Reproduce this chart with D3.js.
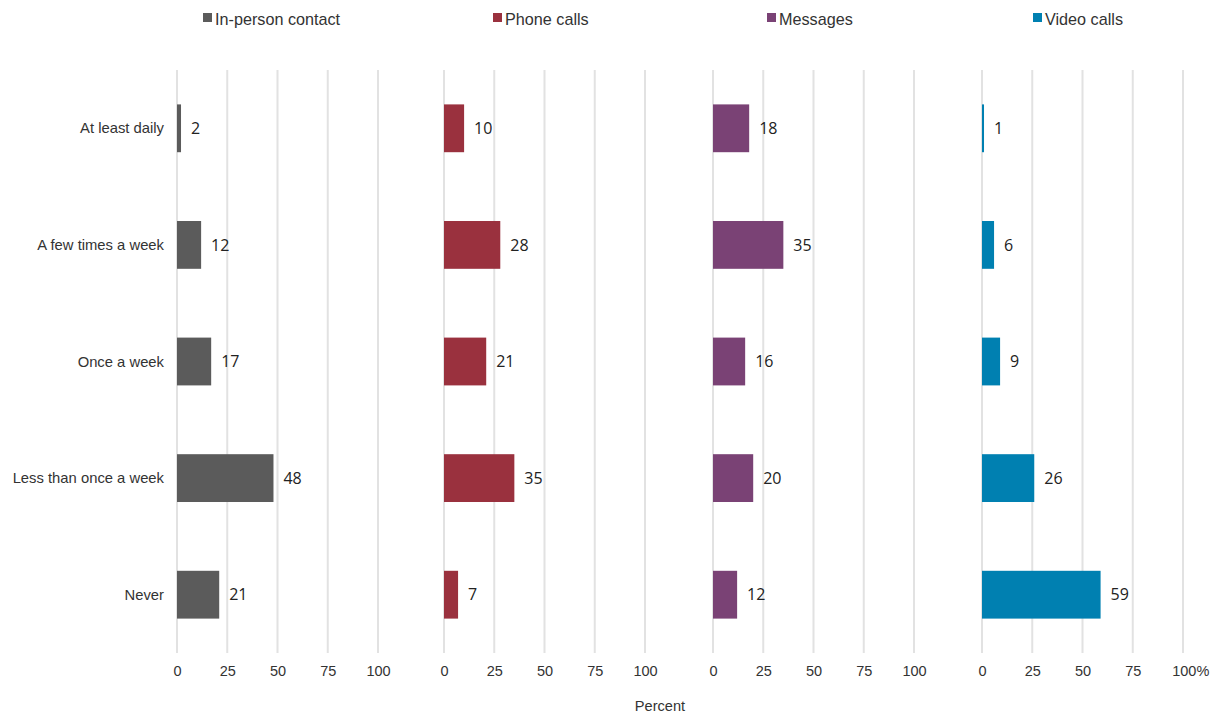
<!DOCTYPE html>
<html>
<head>
<meta charset="utf-8">
<script src="https://cdn.jsdelivr.net/npm/d3@7"></script>
<style>
  html, body { margin: 0; padding: 0; background: #fff; }
  svg { display: block; }
</style>
</head>
<body>
<svg id="chart" width="1222" height="713"></svg>
<script>
// Frequency of contact, percent of respondents, by contact mode
const categories = ["At least daily", "A few times a week", "Once a week", "Less than once a week", "Never"];
const series = ["In-person contact", "Phone calls", "Messages", "Video calls"];
const inPerson = [2, 12, 17, 48, 21];
const phone = [10, 28, 21, 35, 7];
const messages = [18, 35, 16, 20, 12];
const video = [1, 6, 9, 26, 59];
const tickValues = [0, 25, 50, 75, 100];
const colors = ["#5b5b5b", "#9a313e", "#7a4275", "#0080b1"];

const values = [inPerson, phone, messages, video];

const svg = d3.select("#chart");
const panelStarts = [177, 444, 713, 982];
const panelWidth = 201;
const plotTop = 70, plotBottom = 653;
const sans = "Liberation Sans, Arial, sans-serif";

const y = d3.scaleBand().domain(categories).range([plotTop, plotBottom]).paddingInner(0.59).paddingOuter(0.295);

// Category labels
svg.append("g").selectAll("text").data(categories).join("text")
  .attr("x", 164)
  .attr("y", d => y(d) + y.bandwidth() / 2)
  .attr("dy", "0.35em")
  .attr("text-anchor", "end")
  .attr("font-family", sans)
  .attr("font-size", 14.8)
  .attr("fill", "#333")
  .text(d => d);

series.forEach((name, i) => {
  const x = d3.scaleLinear().domain([0, 100]).range([panelStarts[i], panelStarts[i] + panelWidth]);
  const g = svg.append("g");

  // Gridlines
  g.selectAll("line.grid").data(tickValues).join("line")
    .attr("class", "grid")
    .attr("x1", d => x(d)).attr("x2", d => x(d))
    .attr("y1", plotTop).attr("y2", plotBottom)
    .attr("stroke", "#e2e2e2")
    .attr("stroke-width", 2);

  // Axis tick labels
  const axis = d3.axisBottom(x).tickValues(tickValues).tickSize(0).tickPadding(0)
    .tickFormat(d => (i === series.length - 1 && d === 100) ? "100%" : d);
  const ax = g.append("g").attr("transform", `translate(0, 666)`).call(axis);
  ax.select(".domain").remove();
  ax.selectAll("text")
    .attr("font-family", sans)
    .attr("font-size", 14.5)
    .attr("fill", "#333")
    .attr("dy", "0.71em");
  if (i === series.length - 1) {
    ax.selectAll("text").filter(d => d === 100).attr("dx", "0.5em");
  }

  // Bars
  g.selectAll("rect").data(categories).join("rect")
    .attr("x", x(0))
    .attr("y", d => y(d))
    .attr("width", (d, j) => x(values[i][j]) - x(0))
    .attr("height", y.bandwidth())
    .attr("fill", colors[i]);

  // Value labels
  g.selectAll("text.val").data(categories).join("text")
    .attr("class", "val")
    .attr("x", (d, j) => x(values[i][j]) + 10)
    .attr("y", d => y(d) + y.bandwidth() / 2)
    .attr("dy", "0.36em")
    .attr("font-family", "Open Sans, sans-serif")
    .attr("font-size", 16)
    .attr("font-weight", 500)
    .attr("fill", "#222")
    .text((d, j) => values[i][j]);
});

// Legend
const legendX = [203, 493, 767, 1033];
const legend = svg.append("g");
series.forEach((name, i) => {
  legend.append("rect")
    .attr("x", legendX[i]).attr("y", 13)
    .attr("width", 9).attr("height", 9)
    .attr("fill", colors[i]);
  legend.append("text")
    .attr("x", legendX[i] + 12).attr("y", 19)
    .attr("dy", "0.35em")
    .attr("font-family", sans)
    .attr("font-size", 16.2)
    .attr("fill", "#333")
    .text(name);
});

// Axis title
svg.append("text")
  .attr("x", 660).attr("y", 706)
  .attr("dy", "0.35em")
  .attr("text-anchor", "middle")
  .attr("font-family", sans)
  .attr("font-size", 14.6)
  .attr("fill", "#333")
  .text("Percent");
</script>
</body>
</html>
